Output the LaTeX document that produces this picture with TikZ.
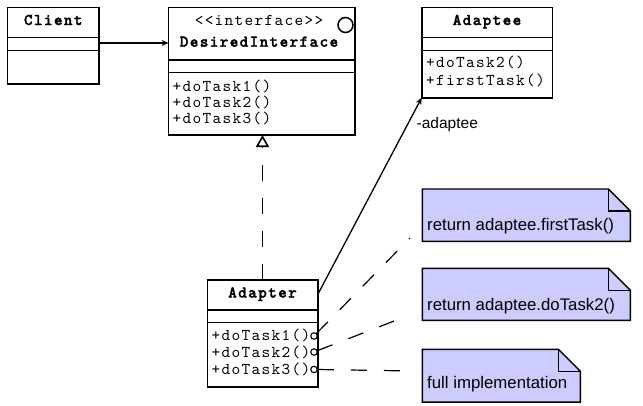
\documentclass[tikz,border=0pt]{standalone}
\usepackage{fontspec}
\setmainfont{Liberation Sans}
\newfontfamily\umlmono{lmmono10-regular.otf}[BoldFont=lmmonolt10-bold.otf,BoldFeatures={FakeBold=1.8},LetterSpace=8]
\usetikzlibrary{arrows.meta,calc}
\definecolor{notefill}{RGB}{204,204,255}
\newcommand{\umlmonofont}{\umlmono\fontsize{16.5}{17}\selectfont}
\begin{document}
\begin{tikzpicture}[x=1pt,y=-1pt,
  box/.style={draw,line width=1.6pt,anchor=north west,inner sep=0pt,outer sep=0pt},
  divider/.style={line width=1.4pt},
  mono/.style={font=\umlmonofont,inner sep=0pt,anchor=base west},
  ctitle/.style={font=\umlmonofont\bfseries,inner sep=0pt,anchor=base},
  stereo/.style={font=\umlmonofont,inner sep=0pt,anchor=base},
  sans/.style={font=\fontsize{16.8}{17}\selectfont,inner sep=0pt,anchor=base west},
  role/.style={font=\fontsize{15.5}{16}\selectfont,inner sep=0pt,anchor=base west},
  port/.style={circle,draw,fill=white,line width=1.1pt,minimum size=6.5pt,inner sep=0pt},
  notebody/.style={fill=notefill,draw,line width=1.4pt,line join=miter},
  dashconn/.style={line width=1.2pt,dash pattern=on 16pt off 17pt},
  assoc/.style={line width=1.3pt,-{Stealth[length=7pt,width=6pt]}},
  realize/.style={line width=1.3pt,dash pattern=on 16pt off 17pt,-{Triangle[open,length=12pt,width=13pt,line width=1.6pt]}}
]
\useasboundingbox (0,0) rectangle (643,405);

% Client
\node[box,minimum width=91.5pt,minimum height=76.5pt] (client) at (7.5,7.5) {};
\draw[divider] (7.5,37.7) -- (99,37.7) (7.5,50.7) -- (99,50.7);
\node[ctitle] (clientT) at (53.25,25) {Client};

% DesiredInterface
\node[box,minimum width=186.5pt,minimum height=127.5pt] (di) at (168.5,7.5) {};
\draw[divider] (168.5,60) -- (355,60) (168.5,72.3) -- (355,72.3);
\node[stereo] (diS) at (259,25) {<<interface>>};
\node[ctitle] (diT) at (259,46.7) {DesiredInterface};
\node[circle,draw,line width=1.5pt,minimum size=15pt,inner sep=0pt] (diC) at (345.5,25) {};
\node[mono] (di1) at (172.5,91) {+doTask1()};
\node[mono] (di2) at (172.5,107) {+doTask2()};
\node[mono] (di3) at (172.5,123.5) {+doTask3()};

% Adaptee
\node[box,minimum width=130.6pt,minimum height=90.4pt] (adaptee) at (421.7,7.3) {};
\draw[divider] (421.7,37.7) -- (552.3,37.7) (421.7,50.7) -- (552.3,50.7);
\node[ctitle] (adapteeT) at (487,25) {Adaptee};
\node[mono] (ad1) at (426,67.5) {+doTask2()};
\node[mono] (ad2) at (426,85) {+firstTask()};

% Adapter
\node[box,minimum width=110.4pt,minimum height=106.7pt] (adapter) at (207.3,280) {};
\draw[divider] (207.3,310) -- (317.7,310) (207.3,322.3) -- (317.7,322.3);
\node[ctitle] (adapterT) at (262.5,297.5) {Adapter};
\node[mono] (ap1) at (211.5,340.5) {+doTask1()};
\node[mono] (ap2) at (211.5,357) {+doTask2()};
\node[mono] (ap3) at (211.5,374) {+doTask3()};
\node[port] (p1) at (314,336) {};
\node[port] (p2) at (314,352) {};
\node[port] (p3) at (314,369.5) {};

% Notes
\node[inner sep=0pt,minimum width=207.7pt,minimum height=52pt,anchor=north west] (n1) at (422.3,189) {};
\draw[notebody] (n1.north west) -- ($(n1.north east)+(-22,0)$) -- ($(n1.north east)+(0,22)$) -- (n1.south east) -- (n1.south west) -- cycle;
\draw[line width=1.4pt] ($(n1.north east)+(-22,0)$) -- ($(n1.north east)+(-22,22)$) -- ($(n1.north east)+(0,22)$);
\node[sans] (n1t) at (427,230) {return adaptee.firstTask()};

\node[inner sep=0pt,minimum width=207.7pt,minimum height=51.7pt,anchor=north west] (n2) at (422.3,268.3) {};
\draw[notebody] (n2.north west) -- ($(n2.north east)+(-22,0)$) -- ($(n2.north east)+(0,22)$) -- (n2.south east) -- (n2.south west) -- cycle;
\draw[line width=1.4pt] ($(n2.north east)+(-22,0)$) -- ($(n2.north east)+(-22,22)$) -- ($(n2.north east)+(0,22)$);
\node[sans] (n2t) at (427,310.5) {return adaptee.doTask2()};

\node[inner sep=0pt,minimum width=157.7pt,minimum height=52.4pt,anchor=north west] (n3) at (422.3,349.3) {};
\draw[notebody] (n3.north west) -- ($(n3.north east)+(-22,0)$) -- ($(n3.north east)+(0,22)$) -- (n3.south east) -- (n3.south west) -- cycle;
\draw[line width=1.4pt] ($(n3.north east)+(-22,0)$) -- ($(n3.north east)+(-22,22)$) -- ($(n3.north east)+(0,22)$);
\node[sans] (n3t) at (427,388.5) {full implementation};

% Connectors
\coordinate (cstart) at (99,43);
\draw[assoc] (cstart) -- (cstart -| di.west);
\draw[realize] (adapter.north) -- (adapter.north |- di.south);
\coordinate (apstart) at (318,294);
\draw[assoc] (apstart) -- (adaptee.south west);
\node[role] (role) at (416.5,128) {-adaptee};

\coordinate (e1) at (410,238);
\coordinate (e2) at (407,316);
\coordinate (e3) at (413,371);
\draw[dashconn] (p1) -- (e1);
\draw[dashconn] (p2) -- (e2);
\draw[dashconn] (p3.east) -- (e3);
\end{tikzpicture}
\end{document}
